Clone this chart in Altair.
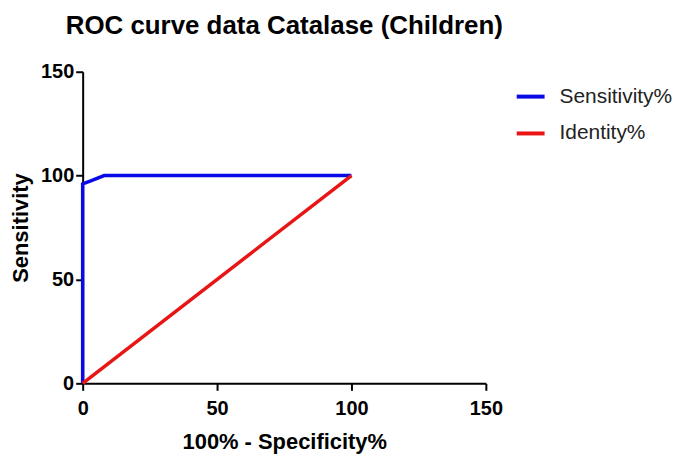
import altair as alt
import pandas as pd

series_names = ["Sensitivity%", "Identity%"]
sens_x = [0, 0, 3, 8, 100]
sens_y = [0, 96, 97.5, 100, 100]
ident_x = [0, 100]
ident_y = [0, 100]

rows = []
for i, (x, y) in enumerate(zip(sens_x, sens_y)):
    rows.append({"series": series_names[0], "x": x, "y": y, "order": i})
for i, (x, y) in enumerate(zip(ident_x, ident_y)):
    rows.append({"series": series_names[1], "x": x, "y": y, "order": i})
df = pd.DataFrame(rows)

FONT = "Liberation Sans"

axis_common = dict(grid=False, domainColor="black", domainWidth=2,
                   tickColor="black", tickWidth=2, tickSize=7,
                   labelFont=FONT, labelFontSize=20, labelFontWeight="bold",
                   labelColor="black", labelFlush=False,
                   titleFont=FONT, titleFontSize=22, titleFontWeight="bold",
                   titleColor="black")

chart = alt.Chart(df).mark_line(strokeWidth=3.5, clip=False).encode(
    x=alt.X("x:Q", scale=alt.Scale(domain=[0, 150], nice=False),
            axis=alt.Axis(title="100% - Specificity%", values=[0, 50, 100, 150],
                          labelPadding=8, titlePadding=13, **axis_common)),
    y=alt.Y("y:Q", scale=alt.Scale(domain=[0, 150], nice=False),
            axis=alt.Axis(title="Sensitivity", values=[0, 50, 100, 150],
                          labelPadding=2, titlePadding=8, **axis_common)),
    color=alt.Color("series:N",
                    scale=alt.Scale(domain=series_names, range=["#0a0ae6", "#e81515"]),
                    legend=alt.Legend(title=None, orient="none", legendX=434, legendY=9,
                                      symbolType="stroke", symbolStrokeWidth=4,
                                      symbolSize=784, rowPadding=11,
                                      labelFont=FONT, labelFontSize=21,
                                      labelColor="#222222", labelOffset=13)),
    order="order:Q",
).properties(
    width=405, height=313,
    title=alt.TitleParams("ROC curve data Catalase (Children)", font=FONT, fontSize=26,
                          fontWeight="bold", color="black", anchor="middle", offset=23),
    padding={"left": 75, "top": 63, "right": 190, "bottom": 76},
    autosize=alt.AutoSizeParams(type="none"),
).configure_view(stroke=None)

chart.save("out.html", embed_options={"renderer": "svg", "actions": False})
